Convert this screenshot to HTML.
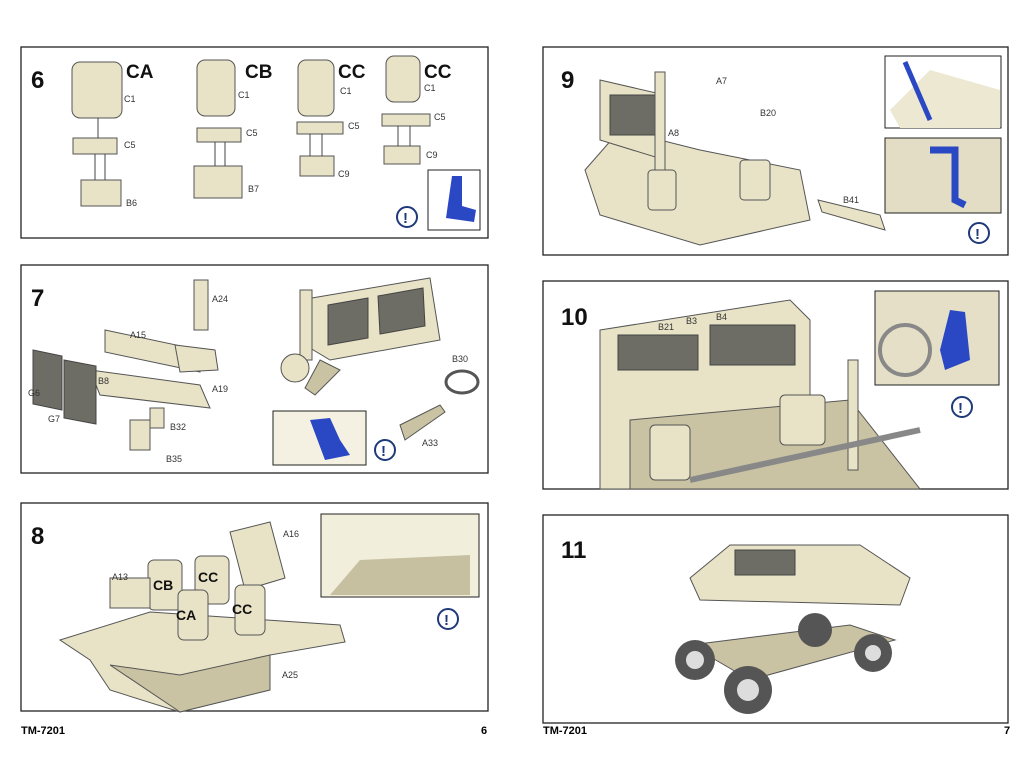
<!DOCTYPE html>
<html><head><meta charset="utf-8"><style>
body{margin:0;background:#fff;}
svg{display:block}
text{font-family:"Liberation Sans",sans-serif;}
.n{font-size:9px;fill:#333}
.big{font-size:24px;font-weight:bold;fill:#111}
.lab{font-size:19px;font-weight:bold;fill:#111}
.p{fill:#e8e3c6;stroke:#555;stroke-width:1}
.d{fill:#c9c3a3;stroke:#555;stroke-width:1}
.dk{fill:#6d6d66;stroke:#444;stroke-width:1}
</style></head><body>
<svg width="1025" height="767" viewBox="0 0 1025 767" xmlns="http://www.w3.org/2000/svg">
<rect width="1025" height="767" fill="#fff"/>
<g fill="none" stroke="#222" stroke-width="1.3">
<rect x="21" y="47" width="467" height="191"/>
<rect x="21" y="265" width="467" height="208"/>
<rect x="21" y="503" width="467" height="208"/>
<rect x="543" y="47" width="465" height="208"/>
<rect x="543" y="281" width="465" height="208"/>
<rect x="543" y="515" width="465" height="208"/>
</g>
<!-- Panel 6 -->
<text class="big" x="31" y="88">6</text>
<text class="lab" x="126" y="78">CA</text><text class="lab" x="245" y="78">CB</text>
<text class="lab" x="338" y="78">CC</text><text class="lab" x="424" y="78">CC</text>
<rect class="p" x="72" y="62" width="50" height="56" rx="8"/>
<rect class="p" x="73" y="138" width="44" height="16"/>
<rect class="p" x="81" y="180" width="40" height="26"/>
<line x1="98" y1="118" x2="98" y2="138" stroke="#444"/>
<line x1="95" y1="154" x2="95" y2="180" stroke="#444"/><line x1="105" y1="154" x2="105" y2="180" stroke="#444"/>
<text class="n" x="124" y="102">C1</text><text class="n" x="124" y="148">C5</text><text class="n" x="126" y="206">B6</text>
<rect class="p" x="197" y="60" width="38" height="56" rx="8"/>
<rect class="p" x="197" y="128" width="44" height="14"/>
<rect class="p" x="194" y="166" width="48" height="32"/>
<line x1="215" y1="142" x2="215" y2="166" stroke="#444"/><line x1="225" y1="142" x2="225" y2="166" stroke="#444"/>
<text class="n" x="238" y="98">C1</text><text class="n" x="246" y="136">C5</text><text class="n" x="248" y="192">B7</text>
<rect class="p" x="298" y="60" width="36" height="56" rx="8"/>
<rect class="p" x="297" y="122" width="46" height="12"/>
<rect class="p" x="300" y="156" width="34" height="20"/>
<line x1="310" y1="134" x2="310" y2="156" stroke="#444"/><line x1="322" y1="134" x2="322" y2="156" stroke="#444"/>
<text class="n" x="340" y="94">C1</text><text class="n" x="348" y="129">C5</text><text class="n" x="338" y="177">C9</text>
<rect class="p" x="386" y="56" width="34" height="46" rx="8"/>
<rect class="p" x="382" y="114" width="48" height="12"/>
<rect class="p" x="384" y="146" width="36" height="18"/>
<line x1="398" y1="126" x2="398" y2="146" stroke="#444"/><line x1="410" y1="126" x2="410" y2="146" stroke="#444"/>
<text class="n" x="424" y="91">C1</text><text class="n" x="434" y="120">C5</text><text class="n" x="426" y="158">C9</text>
<rect x="428" y="170" width="52" height="60" fill="#fff" stroke="#222"/>
<path d="M452 176 L462 176 L462 206 L476 210 L474 222 L446 218 Z" fill="#2b48c4"/>
<circle cx="407" cy="217" r="10" fill="#fff" stroke="#1f3a7a" stroke-width="2"/><text x="403" y="223" font-size="15" font-weight="bold" fill="#1f3a7a">!</text>
<!-- Panel 7 -->
<text class="big" x="31" y="306">7</text>
<rect class="p" x="194" y="280" width="14" height="50"/>
<path class="p" d="M105 330 L200 350 L200 372 L105 352 Z"/>
<path class="p" d="M90 370 L200 385 L210 408 L100 395 Z"/>
<path class="dk" d="M33 350 L62 356 L62 410 L33 404 Z"/>
<path class="dk" d="M64 360 L96 366 L96 424 L64 418 Z"/>
<path class="p" d="M175 345 L215 350 L218 370 L180 372 Z"/>
<rect class="p" x="130" y="420" width="20" height="30"/><rect class="p" x="150" y="408" width="14" height="20"/>
<text class="n" x="212" y="302">A24</text><text class="n" x="130" y="338">A15</text><text class="n" x="98" y="384">B8</text>
<text class="n" x="212" y="392">A19</text><text class="n" x="28" y="396">G6</text><text class="n" x="48" y="422">G7</text>
<text class="n" x="170" y="430">B32</text><text class="n" x="166" y="462">B35</text>
<path class="p" d="M300 300 L430 278 L440 340 L330 360 L305 345 Z"/>
<path class="dk" d="M328 305 L368 298 L368 338 L328 345 Z"/><path class="dk" d="M378 296 L423 288 L425 326 L380 334 Z"/>
<rect class="p" x="300" y="290" width="12" height="70"/>
<circle class="p" cx="295" cy="368" r="14"/>
<path class="d" d="M320 360 L340 370 L315 395 L305 388 Z"/>
<ellipse cx="462" cy="382" rx="16" ry="11" fill="none" stroke="#555" stroke-width="3"/>
<path class="d" d="M400 425 L440 405 L445 412 L405 440 Z"/>
<text class="n" x="452" y="362">B30</text><text class="n" x="422" y="446">A33</text>
<rect x="273" y="411" width="93" height="54" fill="#f4f1e2" stroke="#222"/>
<path d="M310 420 L330 418 L340 440 L350 455 L325 460 Z" fill="#2b48c4"/>
<circle cx="385" cy="450" r="10" fill="#fff" stroke="#1f3a7a" stroke-width="2"/><text x="381" y="456" font-size="15" font-weight="bold" fill="#1f3a7a">!</text>
<!-- Panel 8 -->
<text class="big" x="31" y="544">8</text>
<path class="p" d="M60 640 L150 612 L340 625 L345 642 L270 655 L270 690 L180 712 L110 690 L90 660 Z"/>
<path class="d" d="M110 665 L180 712 L270 690 L270 655 L180 675 Z"/>
<path class="p" d="M230 532 L270 522 L285 578 L245 590 Z"/>
<rect class="p" x="148" y="560" width="34" height="50" rx="6"/>
<rect class="p" x="195" y="556" width="34" height="48" rx="6"/>
<rect class="p" x="178" y="590" width="30" height="50" rx="6"/>
<rect class="p" x="235" y="585" width="30" height="50" rx="6"/>
<rect class="p" x="110" y="578" width="40" height="30"/>
<text class="n" x="283" y="537">A16</text><text class="n" x="112" y="580">A13</text><text class="n" x="282" y="678">A25</text>
<text class="lab" x="153" y="590" style="font-size:14px">CB</text><text class="lab" x="198" y="582" style="font-size:14px">CC</text>
<text class="lab" x="176" y="620" style="font-size:14px">CA</text><text class="lab" x="232" y="614" style="font-size:14px">CC</text>
<rect x="321" y="514" width="158" height="83" fill="#f1eedc" stroke="#222"/>
<path d="M330 595 L360 560 L470 555 L470 595 Z" fill="#c6bfa0"/>
<circle cx="448" cy="619" r="10" fill="#fff" stroke="#1f3a7a" stroke-width="2"/><text x="444" y="625" font-size="15" font-weight="bold" fill="#1f3a7a">!</text>
<!-- Panel 9 -->
<text class="big" x="561" y="88">9</text>
<path class="p" d="M585 170 L620 130 L700 150 L800 170 L810 220 L700 245 L600 215 Z"/>
<path class="p" d="M600 80 L665 95 L665 160 L600 140 Z"/>
<rect class="dk" x="610" y="95" width="45" height="40"/>
<rect class="p" x="655" y="72" width="10" height="120"/>
<rect class="p" x="648" y="170" width="28" height="40" rx="4"/><rect class="p" x="740" y="160" width="30" height="40" rx="4"/>
<path class="p" d="M818 200 L880 215 L885 230 L822 212 Z"/>
<text class="n" x="716" y="84">A7</text><text class="n" x="760" y="116">B20</text><text class="n" x="668" y="136">A8</text><text class="n" x="843" y="203">B41</text>
<rect x="885" y="56" width="116" height="72" fill="#fff" stroke="#222"/>
<path d="M890 110 L930 70 L1000 90 L1000 128 L900 128 Z" fill="#ece8d2"/>
<path d="M905 62 L930 120" stroke="#2b48c4" stroke-width="5"/>
<rect x="885" y="138" width="116" height="75" fill="#e2ddc4" stroke="#222"/>
<path d="M930 150 L955 150 L955 200 L965 205" fill="none" stroke="#2b48c4" stroke-width="7"/>
<circle cx="979" cy="233" r="10" fill="#fff" stroke="#1f3a7a" stroke-width="2"/><text x="975" y="239" font-size="15" font-weight="bold" fill="#1f3a7a">!</text>
<!-- Panel 10 -->
<text class="big" x="561" y="325">10</text>
<path class="p" d="M600 330 L790 300 L810 320 L810 489 L600 489 Z"/>
<rect class="dk" x="618" y="335" width="80" height="35"/><rect class="dk" x="710" y="325" width="85" height="40"/>
<path class="d" d="M630 489 L630 420 L850 400 L920 489 Z"/>
<rect class="p" x="650" y="425" width="40" height="55" rx="5"/><rect class="p" x="780" y="395" width="45" height="50" rx="5"/>
<rect class="p" x="848" y="360" width="10" height="110"/>
<line x1="690" y1="480" x2="920" y2="430" stroke="#888" stroke-width="6"/>
<text class="n" x="658" y="330">B21</text><text class="n" x="686" y="324">B3</text><text class="n" x="716" y="320">B4</text>
<rect x="875" y="291" width="124" height="94" fill="#e4dfc6" stroke="#222"/>
<circle cx="905" cy="350" r="25" fill="none" stroke="#888" stroke-width="4"/>
<path d="M950 310 L965 312 L970 360 L945 370 L940 350 Z" fill="#2b48c4"/>
<circle cx="962" cy="407" r="10" fill="#fff" stroke="#1f3a7a" stroke-width="2"/><text x="958" y="413" font-size="15" font-weight="bold" fill="#1f3a7a">!</text>
<!-- Panel 11 -->
<text class="big" x="561" y="558">11</text>
<path class="p" d="M690 578 L730 545 L860 545 L910 578 L900 605 L700 600 Z"/>
<rect class="dk" x="735" y="550" width="60" height="25"/>
<path class="d" d="M690 645 L850 625 L895 640 L750 680 Z"/>
<circle cx="695" cy="660" r="20" fill="#555"/><circle cx="748" cy="690" r="24" fill="#555"/>
<circle cx="815" cy="630" r="17" fill="#555"/><circle cx="873" cy="653" r="19" fill="#555"/>
<circle cx="695" cy="660" r="9" fill="#ddd"/><circle cx="748" cy="690" r="11" fill="#ddd"/><circle cx="873" cy="653" r="8" fill="#ddd"/>
<text x="21" y="734" font-size="11" font-weight="bold">TM-7201</text>
<text x="481" y="734" font-size="11" font-weight="bold">6</text>
<text x="543" y="734" font-size="11" font-weight="bold">TM-7201</text>
<text x="1004" y="734" font-size="11" font-weight="bold">7</text>
</svg>
</body></html>
